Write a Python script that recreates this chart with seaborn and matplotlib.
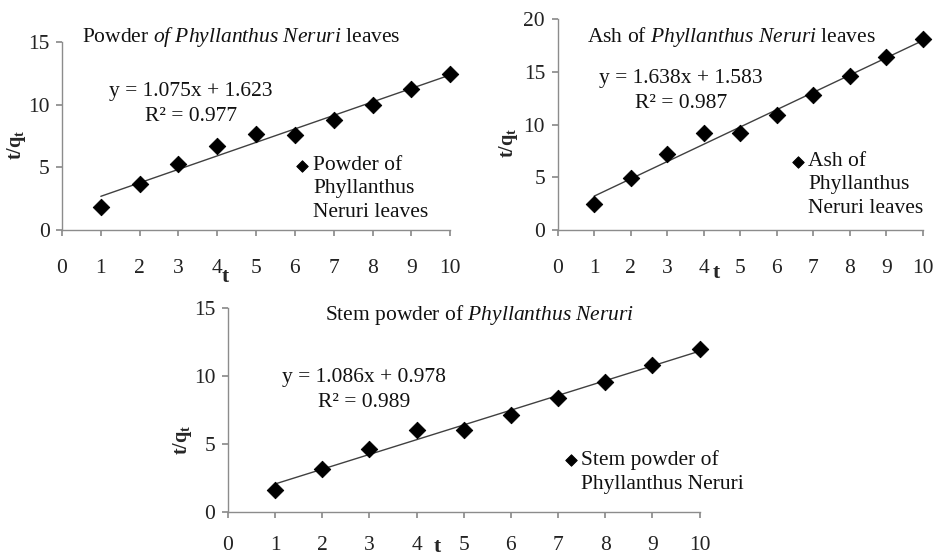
import matplotlib
matplotlib.use("Agg")
import matplotlib.pyplot as plt
import pandas as pd
import seaborn as sns

sns.set_theme(style="white")
plt.rcParams["font.family"] = ["Liberation Serif", "DejaVu Serif"]
plt.rcParams["mathtext.fontset"] = "custom"
plt.rcParams["mathtext.rm"] = "Liberation Serif"
plt.rcParams["mathtext.it"] = "Liberation Serif:italic"
plt.rcParams["mathtext.bf"] = "Liberation Serif:bold"

t = [1, 2, 3, 4, 5, 6, 7, 8, 9, 10]

powder_leaves = [1.86, 3.64, 5.26, 6.69, 7.70, 7.57, 8.81, 10.0, 11.28, 12.42]
ash_leaves = [2.47, 4.90, 7.18, 9.18, 9.18, 10.92, 12.80, 14.60, 16.40, 18.10]
stem_powder = [1.64, 3.19, 4.63, 6.00, 6.00, 7.16, 8.38, 9.56, 10.83, 11.99]

fits = [(1.075, 1.623, 0.977), (1.638, 1.583, 0.987), (1.086, 0.978, 0.989)]

titles = [
    r"Powder $\it{of\ Phyllanthus\ Neruri}$ leaves",
    r"Ash of $\it{Phyllanthus\ Neruri}$ leaves",
    r"Stem powder of $\it{Phyllanthus\ Neruri}$",
]
legend_labels = [
    "Powder of\nPhyllanthus\nNeruri leaves",
    "Ash of\nPhyllanthus\nNeruri leaves",
    "Stem powder of\nPhyllanthus Neruri",
]
y_max = [15, 20, 15]

# layout of each panel, and where texts sit (data coords / axes coords)
rects = [
    [0.0664, 0.589, 0.4156, 0.336],
    [0.597, 0.589, 0.391, 0.377],
    [0.244, 0.0857, 0.505, 0.364],
]
title_pos = [(0.52, 15.4), (0.8, 18.3), (2.05, 14.5)]
eq_pos = [(3.32, 10.06), (3.37, 13.2), (2.88, 8.97)]
leg_anchor = [(0.575, 0.45), (0.61, 0.42), (0.69, 0.355)]
tick_pad = [17, 17, 13]

fig = plt.figure(figsize=(9.34, 5.6), dpi=100)
FS = 15.5

for i, yv in enumerate([powder_leaves, ash_leaves, stem_powder]):
    ax = fig.add_axes(rects[i])
    df = pd.DataFrame({"t": t, "tq": yv})
    slope, icpt, r2 = fits[i]
    df["fit"] = [slope * x + icpt for x in t]

    sns.lineplot(data=df, x="t", y="fit", ax=ax, color="#404040", lw=1.0)
    sns.scatterplot(data=df, x="t", y="tq", ax=ax, marker="D", s=70,
                    color="black", edgecolor="black", label=legend_labels[i],
                    clip_on=False, zorder=3)

    ax.set_xlim(0, 10)
    ax.set_ylim(0, y_max[i])
    ax.set_xticks(range(0, 11))
    ax.set_yticks(range(0, y_max[i] + 1, 5))
    ax.set_xlabel("")
    ax.set_ylabel("")
    for s in ["top", "right"]:
        ax.spines[s].set_visible(False)
    for s in ["left", "bottom"]:
        ax.spines[s].set_color("#8c8c8c")
        ax.spines[s].set_linewidth(1.0)
    ax.tick_params(axis="x", direction="out", length=4, color="#8c8c8c",
                   pad=tick_pad[i], labelsize=FS, bottom=True, labelcolor="#222222")
    ax.tick_params(axis="y", direction="out", length=4, color="#8c8c8c",
                   pad=5, labelsize=FS, left=True, labelcolor="#222222")

    ax.text(title_pos[i][0], title_pos[i][1], titles[i], fontsize=FS,
            ha="left", va="center", clip_on=False, color="#111111")
    ax.text(eq_pos[i][0], eq_pos[i][1],
            f"y = {slope:.3f}x + {icpt:.3f}\nR\u00b2 = {r2:.3f}",
            fontsize=FS, ha="center", va="center", linespacing=1.4,
            color="#111111")

    leg = ax.legend(loc="upper left", bbox_to_anchor=leg_anchor[i],
                    frameon=False, fontsize=FS, handlelength=0.6,
                    handletextpad=0.2, borderpad=0, markerscale=0.7,
                    labelspacing=0)
    for col in leg._legend_handle_box.get_children():
        for row in col.get_children():
            row.align = "top"
    for txt in leg.get_texts():
        txt.set_linespacing(1.3)
        txt.set_color("#111111")

# axis titles
x_lab = [(226, 277), (717, 273), (438, 548)]
y_lab = [(17, 145), (508, 143), (183, 440)]
for (xx, yy) in x_lab:
    fig.text(xx / 934, 1 - yy / 560, r"$\mathbf{t}$", fontsize=FS,
             ha="center", va="center")
for (xx, yy) in y_lab:
    fig.text(xx / 934, 1 - yy / 560, r"$\mathbf{t/q_t}$", fontsize=FS - 1,
             ha="center", va="center", rotation=90)

plt.savefig("out.png", dpi=100)
